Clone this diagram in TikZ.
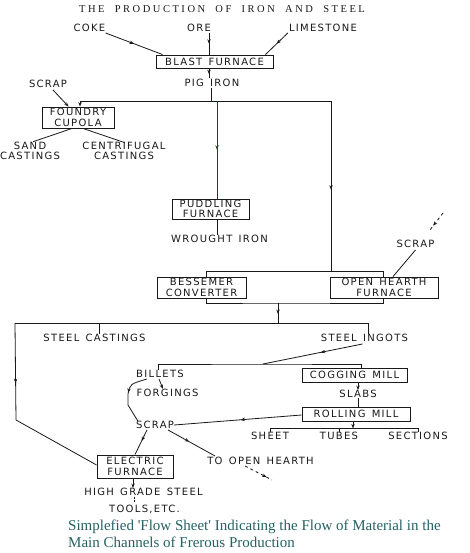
\documentclass[tikz,border=0pt]{standalone}
\usepackage{fontspec}
\usetikzlibrary{arrows.meta,decorations.markings,calc}
\newfontfamily\labfam[LetterSpace=13,WordSpace=1.4]{DejaVu Sans}
\newfontfamily\titlefam[LetterSpace=24,WordSpace=2]{Liberation Serif}
\newfontfamily\capfam{Liberation Serif}
\newcommand\labf{\labfam\fontsize{10}{10.6}\selectfont}
\definecolor{capteal}{RGB}{38,98,100}
\definecolor{dkgreen}{RGB}{20,70,40}
\definecolor{ink}{RGB}{25,25,25}
\tikzset{
  lab/.style={font=\labf, inner sep=1pt, text=ink},
  box/.style={draw=ink, line width=0.9pt, inner sep=0pt, font=\labf, align=center, text=ink},
  ln/.style={line width=0.8pt, draw=ink},
  midarrow/.style={postaction={decorate}, decoration={markings, mark=at position #1 with {\arrow{Stealth[length=4.5pt,width=3.4pt]}}}},
  midarrow/.default=0.5,
  tip/.style={-{Stealth[length=4.5pt,width=3.4pt]}},
}
\begin{document}
\begin{tikzpicture}[x=1pt,y=-1pt]
\useasboundingbox[fill=white] (0,0) rectangle (469,553);
% title
\node[font=\titlefam\fontsize{10.5}{11}\selectfont, text=ink] (title) at (222,9) {THE PRODUCTION OF IRON AND STEEL};
% inputs
\node[lab] (coke) at (89.5,28) {COKE};
\node[lab] (ore) at (199,28) {ORE};
\node[lab] (lime) at (323,28) {LIMESTONE};
\node[box, minimum width=117pt, minimum height=13pt] (bf) at (214.5,61.5) {BLAST FURNACE};
\node[lab] (pig) at (212,83) {PIG IRON};
\node[lab] (scrapa) at (48,84) {SCRAP};
\node[box, minimum width=72pt, minimum height=21pt] (fc) at (78,117.5) {FOUNDRY\\CUPOLA};
\node[lab, align=center] (sand) at (30,151) {SAND\\CASTINGS};
\node[lab, align=center] (cent) at (124,151) {CENTRIFUGAL\\CASTINGS};
\node[box, minimum width=77pt, minimum height=20pt] (pf) at (210.5,209) {PUDDLING\\FURNACE};
\node[lab] (wi) at (219.5,239) {WROUGHT IRON};
\node[lab] (scrapb) at (415.5,244) {SCRAP};
\node[box, minimum width=89pt, minimum height=21pt] (bc) at (201.5,287.5) {BESSEMER\\CONVERTER};
\node[box, minimum width=108pt, minimum height=21pt] (oh) at (384,287.5) {OPEN HEARTH\\FURNACE};
\node[lab] (sc) at (94.5,338) {STEEL CASTINGS};
\node[lab] (si) at (364.5,338) {STEEL INGOTS};
\node[lab] (bil) at (160,374) {BILLETS};
\node[lab] (forg) at (167.5,393) {FORGINGS};
\node[box, minimum width=105pt, minimum height=14pt] (cm) at (354.5,375) {COGGING MILL};
\node[lab] (slabs) at (358,394) {SLABS};
\node[box, minimum width=108pt, minimum height=14pt] (rm) at (356,414) {ROLLING MILL};
\node[lab] (scrapc) at (155,425) {SCRAP};
\node[lab] (sheet) at (270,436) {SHEET};
\node[lab] (tubes) at (339,436) {TUBES};
\node[lab] (sect) at (418,436) {SECTIONS};
\node[lab] (toh) at (260.5,461) {TO OPEN HEARTH};
\node[box, minimum width=76pt, minimum height=23pt] (ef) at (135,466.5) {ELECTRIC\\FURNACE};
\node[lab] (hgs) at (143.5,492) {HIGH GRADE STEEL};
\node[lab] (tools) at (144.5,509) {TOOLS,ETC.};
% caption
\node[anchor=west, font=\capfam\fontsize{15}{15}\selectfont, text=capteal, inner sep=0pt] (cap1) at (68,527) {Simplefied 'Flow Sheet' Indicating the Flow of Material in the};
\node[anchor=west, font=\capfam\fontsize{15}{15}\selectfont, text=capteal, inner sep=0pt] (cap2) at (68,542) {Main Channels of Frerous Production};

% coordinates
\coordinate (j1) at (211,101);
\coordinate (gl) at (217,101);
\coordinate (rr) at (331,101);
\coordinate (j2) at (331,271.5);
\coordinate (s2a) at (443,213);
\coordinate (s2b) at (430,230);
\coordinate (j3) at (278,303);
\coordinate (j4) at (278,323);
\coordinate (l1) at (15,323);
\coordinate (l2) at (16,420);
\coordinate (b1) at (263,364);
\coordinate (tohend) at (272,480);

% connectors top
\draw[ln, midarrow=0.5] ($(coke.south east)+(-1,0)$) -- ($(bf.north west)+(7,0)$);
\draw[ln, midarrow=0.5] ($(ore.south)+(10,0)$) -- ($(bf.north)+(-5.5,0)$);
\draw[ln, midarrow=0.5] ($(lime.south west)+(0,0)$) -- ($(bf.north east)+(-8,0)$);
\draw[ln, midarrow=0.6] ($(bf.south)+(-5.5,0)$) -- ($(pig.north)+(-3,0)$);
\draw[ln] ($(pig.south)+(-1,0)$) -- (j1);
\draw[ln, tip] (j1) -| ($(fc.north)+(2,0)$);
\draw[ln] (j1) -- (rr);
\draw[ln, midarrow=0.52] (rr) -- (j2);
\draw[line width=0.9pt, draw=dkgreen, midarrow=0.5] (gl) -- ($(pf.north)+(6.5,0)$);
\draw[ln, tip] ($(scrapa.south)+(5,1)$) -- ($(fc.north west)+(27,0)$);
\draw[ln] ($(fc.south)+(-6,0)$) -- ($(sand.north)+(3,1)$);
\draw[ln] ($(fc.south)+(5,0)$) -- ($(cent.north)+(1,2)$);
\draw[ln] ($(pf.south)+(6.5,0)$) -- ($(wi.north)+(-2.5,1)$);
% scrap into open hearth
\draw[ln, dashed, midarrow=0.75] (s2a) -- (s2b);
\draw[ln] ($(scrapb.south)+(0,1)$) -- ($(oh.north)+(9,0)$);
% brackets around converters
\draw[ln] ($(bc.north)+(4.5,0)$) |- (j2) -| ($(oh.north)+(-1,0)$);
\draw[ln] ($(bc.south)+(4.5,0)$) |- (j3) -| ($(oh.south)+(-1,0)$);
\draw[ln, midarrow=0.55] (j3) -- (j4);
\draw[ln] (j4) -- (l1);
\draw[ln] (j4) -| ($(si.north)+(3.5,1)$);
\draw[ln] ($(sc.north)+(4.5,1)$) -- +(0,-10);
\draw[ln, midarrow=0.62] (l1) -- (l2);
\draw[ln] (l2) -- ($(ef.west)+(0,-1.5)$);
% ingots
\draw[ln, midarrow=0.42] ($(si.south)+(-2,1)$) -- (b1);
\draw[ln] ($(bil.north)+(-2,1)$) |- (b1) -| ($(cm.north)+(6.5,0)$);
\draw[ln, tip] ($(bil.south)+(-1,0)$) -- ($(forg.north)+(-4.5,1)$);
\draw[ln, midarrow=0.45] ($(bil.south)+(-13,0)$) .. controls (130,384) .. (128,394) -- (128,405) -- ($(scrapc.north west)+(3,1)$);
\draw[ln, tip] ($(cm.south)+(3.5,0)$) -- ($(slabs.north)+(0,1)$);
\draw[ln] ($(slabs.south)+(0,-1)$) -- ($(rm.north)+(2,0)$);
\draw[ln, midarrow=0.48] ($(rm.west)+(0,1)$) -- ($(scrapc.east)+(-1,0)$);
\draw[ln, tip] ($(rm.south)+(-3,0)$) -- ($(rm.south)+(-3,7)$);
\draw[ln] ($(sheet.north)+(0,1)$) |- ($(rm.south)+(0,7)$) -| ($(sect.north)+(0,1)$);
\draw[ln] ($(tubes.north)+(0,1)$) -- +(0,-4);
\draw[ln, midarrow=0.45] ($(scrapc.south)+(-8,0)$) -- ($(ef.north)+(0,0)$);
\draw[ln, midarrow=0.45] ($(scrapc.south)+(13,0)$) -- ($(toh.north west)+(9,0)$);
\draw[ln, dashed, midarrow=0.8] ($(toh.south west)+(39,0)$) -- (tohend);
\draw[ln, tip] ($(ef.south)+(-2,0)$) -- ($(hgs.north)+(-10.5,1)$);
\draw[ln, dashed, dash pattern=on 2pt off 1.5pt] ($(hgs.south)+(-9.5,0)$) -- ($(tools.north)+(-10.5,0)$);
\end{tikzpicture}
\end{document}
